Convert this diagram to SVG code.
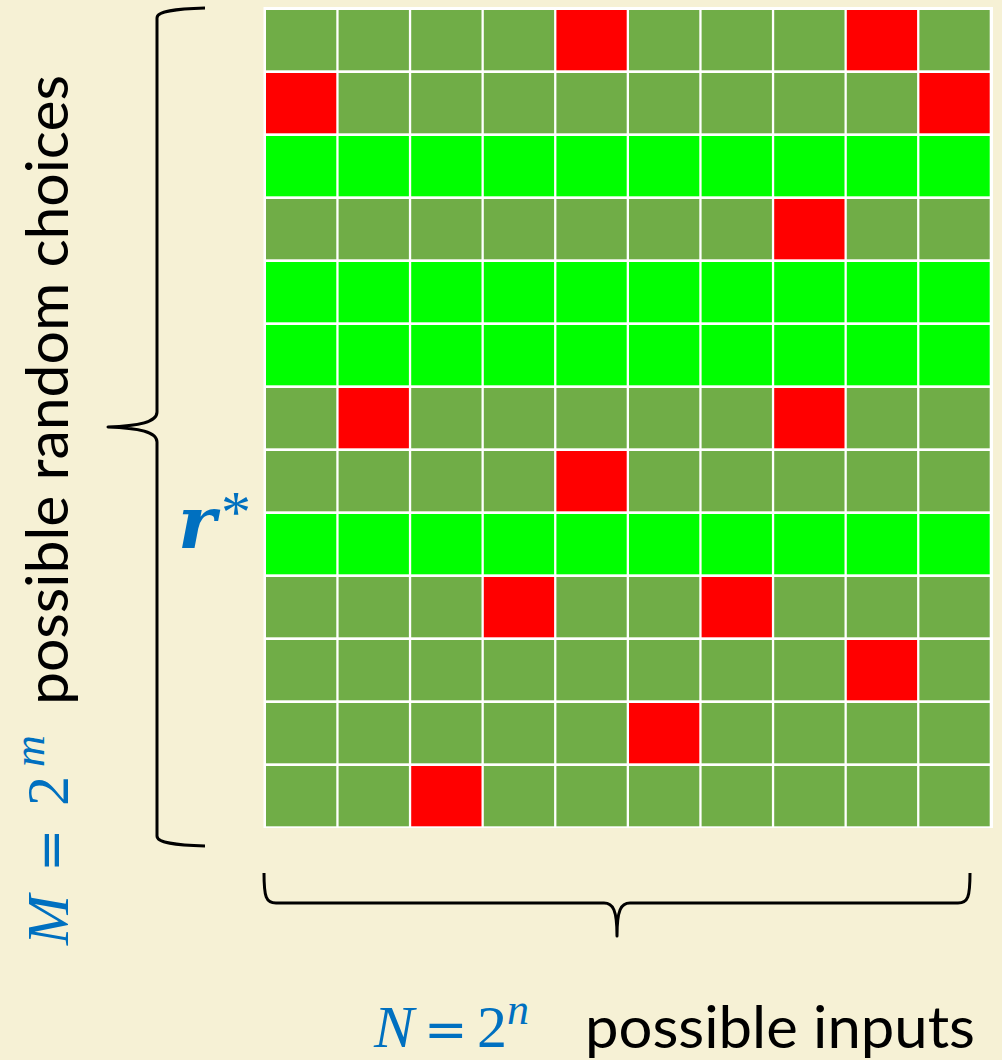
<svg xmlns="http://www.w3.org/2000/svg" width="1002" height="1060" viewBox="0 0 1002 1060">
<style>
.bg{fill:#F6F1D5}
.g{fill:#70AD47}
.r{fill:#FF0000}
.b{fill:#00FF00}
.brace{fill:none;stroke:#000;stroke-width:3;stroke-linecap:butt;stroke-linejoin:round}
.lbl{font-family:"Lato","Open Sans","Liberation Sans",sans-serif;font-size:58px;fill:#000}
.math{font-family:"Liberation Serif","DejaVu Serif",serif;fill:#0070C0;font-size:60px}
.it{font-style:italic}
.eq{font-family:"DejaVu Sans",sans-serif;font-size:52px}
.sup{font-size:44px;font-style:italic}
</style>
<rect class="bg" x="0" y="0" width="1002" height="1060"/>
<g id="grid">
<rect x="263.5" y="7" width="729.5" height="821" fill="#FFFFFF"/>
<g id="row0"><rect class="g" x="266" y="10" width="70.3" height="60.3"/><rect class="g" x="338.6" y="10" width="70.3" height="60.3"/><rect class="g" x="411.2" y="10" width="70.3" height="60.3"/><rect class="g" x="483.8" y="10" width="70.3" height="60.3"/><rect class="r" x="556.4" y="10" width="70.3" height="60.3"/><rect class="g" x="629" y="10" width="70.3" height="60.3"/><rect class="g" x="701.6" y="10" width="70.3" height="60.3"/><rect class="g" x="774.2" y="10" width="70.3" height="60.3"/><rect class="r" x="846.8" y="10" width="70.3" height="60.3"/><rect class="g" x="919.4" y="10" width="70.3" height="60.3"/></g>
<g id="row1"><rect class="r" x="266" y="73" width="70.3" height="60.3"/><rect class="g" x="338.6" y="73" width="70.3" height="60.3"/><rect class="g" x="411.2" y="73" width="70.3" height="60.3"/><rect class="g" x="483.8" y="73" width="70.3" height="60.3"/><rect class="g" x="556.4" y="73" width="70.3" height="60.3"/><rect class="g" x="629" y="73" width="70.3" height="60.3"/><rect class="g" x="701.6" y="73" width="70.3" height="60.3"/><rect class="g" x="774.2" y="73" width="70.3" height="60.3"/><rect class="g" x="846.8" y="73" width="70.3" height="60.3"/><rect class="r" x="919.4" y="73" width="70.3" height="60.3"/></g>
<g id="row2"><rect class="b" x="266" y="136" width="70.3" height="60.3"/><rect class="b" x="338.6" y="136" width="70.3" height="60.3"/><rect class="b" x="411.2" y="136" width="70.3" height="60.3"/><rect class="b" x="483.8" y="136" width="70.3" height="60.3"/><rect class="b" x="556.4" y="136" width="70.3" height="60.3"/><rect class="b" x="629" y="136" width="70.3" height="60.3"/><rect class="b" x="701.6" y="136" width="70.3" height="60.3"/><rect class="b" x="774.2" y="136" width="70.3" height="60.3"/><rect class="b" x="846.8" y="136" width="70.3" height="60.3"/><rect class="b" x="919.4" y="136" width="70.3" height="60.3"/></g>
<g id="row3"><rect class="g" x="266" y="199" width="70.3" height="60.3"/><rect class="g" x="338.6" y="199" width="70.3" height="60.3"/><rect class="g" x="411.2" y="199" width="70.3" height="60.3"/><rect class="g" x="483.8" y="199" width="70.3" height="60.3"/><rect class="g" x="556.4" y="199" width="70.3" height="60.3"/><rect class="g" x="629" y="199" width="70.3" height="60.3"/><rect class="g" x="701.6" y="199" width="70.3" height="60.3"/><rect class="r" x="774.2" y="199" width="70.3" height="60.3"/><rect class="g" x="846.8" y="199" width="70.3" height="60.3"/><rect class="g" x="919.4" y="199" width="70.3" height="60.3"/></g>
<g id="row4"><rect class="b" x="266" y="262" width="70.3" height="60.3"/><rect class="b" x="338.6" y="262" width="70.3" height="60.3"/><rect class="b" x="411.2" y="262" width="70.3" height="60.3"/><rect class="b" x="483.8" y="262" width="70.3" height="60.3"/><rect class="b" x="556.4" y="262" width="70.3" height="60.3"/><rect class="b" x="629" y="262" width="70.3" height="60.3"/><rect class="b" x="701.6" y="262" width="70.3" height="60.3"/><rect class="b" x="774.2" y="262" width="70.3" height="60.3"/><rect class="b" x="846.8" y="262" width="70.3" height="60.3"/><rect class="b" x="919.4" y="262" width="70.3" height="60.3"/></g>
<g id="row5"><rect class="b" x="266" y="325" width="70.3" height="60.3"/><rect class="b" x="338.6" y="325" width="70.3" height="60.3"/><rect class="b" x="411.2" y="325" width="70.3" height="60.3"/><rect class="b" x="483.8" y="325" width="70.3" height="60.3"/><rect class="b" x="556.4" y="325" width="70.3" height="60.3"/><rect class="b" x="629" y="325" width="70.3" height="60.3"/><rect class="b" x="701.6" y="325" width="70.3" height="60.3"/><rect class="b" x="774.2" y="325" width="70.3" height="60.3"/><rect class="b" x="846.8" y="325" width="70.3" height="60.3"/><rect class="b" x="919.4" y="325" width="70.3" height="60.3"/></g>
<g id="row6"><rect class="g" x="266" y="388" width="70.3" height="60.3"/><rect class="r" x="338.6" y="388" width="70.3" height="60.3"/><rect class="g" x="411.2" y="388" width="70.3" height="60.3"/><rect class="g" x="483.8" y="388" width="70.3" height="60.3"/><rect class="g" x="556.4" y="388" width="70.3" height="60.3"/><rect class="g" x="629" y="388" width="70.3" height="60.3"/><rect class="g" x="701.6" y="388" width="70.3" height="60.3"/><rect class="r" x="774.2" y="388" width="70.3" height="60.3"/><rect class="g" x="846.8" y="388" width="70.3" height="60.3"/><rect class="g" x="919.4" y="388" width="70.3" height="60.3"/></g>
<g id="row7"><rect class="g" x="266" y="451" width="70.3" height="60.3"/><rect class="g" x="338.6" y="451" width="70.3" height="60.3"/><rect class="g" x="411.2" y="451" width="70.3" height="60.3"/><rect class="g" x="483.8" y="451" width="70.3" height="60.3"/><rect class="r" x="556.4" y="451" width="70.3" height="60.3"/><rect class="g" x="629" y="451" width="70.3" height="60.3"/><rect class="g" x="701.6" y="451" width="70.3" height="60.3"/><rect class="g" x="774.2" y="451" width="70.3" height="60.3"/><rect class="g" x="846.8" y="451" width="70.3" height="60.3"/><rect class="g" x="919.4" y="451" width="70.3" height="60.3"/></g>
<g id="row8"><rect class="b" x="266" y="514" width="70.3" height="60.3"/><rect class="b" x="338.6" y="514" width="70.3" height="60.3"/><rect class="b" x="411.2" y="514" width="70.3" height="60.3"/><rect class="b" x="483.8" y="514" width="70.3" height="60.3"/><rect class="b" x="556.4" y="514" width="70.3" height="60.3"/><rect class="b" x="629" y="514" width="70.3" height="60.3"/><rect class="b" x="701.6" y="514" width="70.3" height="60.3"/><rect class="b" x="774.2" y="514" width="70.3" height="60.3"/><rect class="b" x="846.8" y="514" width="70.3" height="60.3"/><rect class="b" x="919.4" y="514" width="70.3" height="60.3"/></g>
<g id="row9"><rect class="g" x="266" y="577" width="70.3" height="60.3"/><rect class="g" x="338.6" y="577" width="70.3" height="60.3"/><rect class="g" x="411.2" y="577" width="70.3" height="60.3"/><rect class="r" x="483.8" y="577" width="70.3" height="60.3"/><rect class="g" x="556.4" y="577" width="70.3" height="60.3"/><rect class="g" x="629" y="577" width="70.3" height="60.3"/><rect class="r" x="701.6" y="577" width="70.3" height="60.3"/><rect class="g" x="774.2" y="577" width="70.3" height="60.3"/><rect class="g" x="846.8" y="577" width="70.3" height="60.3"/><rect class="g" x="919.4" y="577" width="70.3" height="60.3"/></g>
<g id="row10"><rect class="g" x="266" y="640" width="70.3" height="60.3"/><rect class="g" x="338.6" y="640" width="70.3" height="60.3"/><rect class="g" x="411.2" y="640" width="70.3" height="60.3"/><rect class="g" x="483.8" y="640" width="70.3" height="60.3"/><rect class="g" x="556.4" y="640" width="70.3" height="60.3"/><rect class="g" x="629" y="640" width="70.3" height="60.3"/><rect class="g" x="701.6" y="640" width="70.3" height="60.3"/><rect class="g" x="774.2" y="640" width="70.3" height="60.3"/><rect class="r" x="846.8" y="640" width="70.3" height="60.3"/><rect class="g" x="919.4" y="640" width="70.3" height="60.3"/></g>
<g id="row11"><rect class="g" x="266" y="703" width="70.3" height="60.3"/><rect class="g" x="338.6" y="703" width="70.3" height="60.3"/><rect class="g" x="411.2" y="703" width="70.3" height="60.3"/><rect class="g" x="483.8" y="703" width="70.3" height="60.3"/><rect class="g" x="556.4" y="703" width="70.3" height="60.3"/><rect class="r" x="629" y="703" width="70.3" height="60.3"/><rect class="g" x="701.6" y="703" width="70.3" height="60.3"/><rect class="g" x="774.2" y="703" width="70.3" height="60.3"/><rect class="g" x="846.8" y="703" width="70.3" height="60.3"/><rect class="g" x="919.4" y="703" width="70.3" height="60.3"/></g>
<g id="row12"><rect class="g" x="266" y="766" width="70.3" height="60.3"/><rect class="g" x="338.6" y="766" width="70.3" height="60.3"/><rect class="r" x="411.2" y="766" width="70.3" height="60.3"/><rect class="g" x="483.8" y="766" width="70.3" height="60.3"/><rect class="g" x="556.4" y="766" width="70.3" height="60.3"/><rect class="g" x="629" y="766" width="70.3" height="60.3"/><rect class="g" x="701.6" y="766" width="70.3" height="60.3"/><rect class="g" x="774.2" y="766" width="70.3" height="60.3"/><rect class="g" x="846.8" y="766" width="70.3" height="60.3"/><rect class="g" x="919.4" y="766" width="70.3" height="60.3"/></g>
</g>
<g id="braces">
<path class="brace" d="M205,8 C175,9 157,11 157,18 L157,412 C157,422 140,426 108,427 C140,428 157,432 157,442 L157,836 C157,843 175,845 205,846"/>
<path class="brace" d="M264,873 C264,897 266,903 276,903 L604,903 C613,903 617,910 617,936 C617,910 621,903 630,903 L958,903 C968,903 970,897 970,873"/>
</g>
<g id="label-M" transform="translate(68,0) rotate(-90)">
<text class="math" y="0"><tspan class="it" x="-945">M</tspan><tspan class="eq" x="-872">=</tspan><tspan x="-806">2</tspan><tspan class="sup" x="-767" dy="-24">m</tspan></text>
<text class="lbl" x="-705" y="0" textLength="630" lengthAdjust="spacingAndGlyphs">possible random choices</text>
</g>
<g id="label-r">
<text x="178" y="548" font-family="DejaVu Serif, serif" font-size="72" font-weight="bold" font-style="italic" fill="#0070C0">r</text>
<text class="math" x="221" y="532" font-size="50">*</text>
</g>
<g id="label-N">
<text class="math" y="1047" font-size="58"><tspan class="it" x="374">N</tspan><tspan class="eq" x="424">=</tspan><tspan x="477">2</tspan><tspan class="sup" x="507" dy="-23">n</tspan></text>
<text class="lbl" x="585" y="1048" textLength="390" lengthAdjust="spacingAndGlyphs">possible inputs</text>
</g>
</svg>
